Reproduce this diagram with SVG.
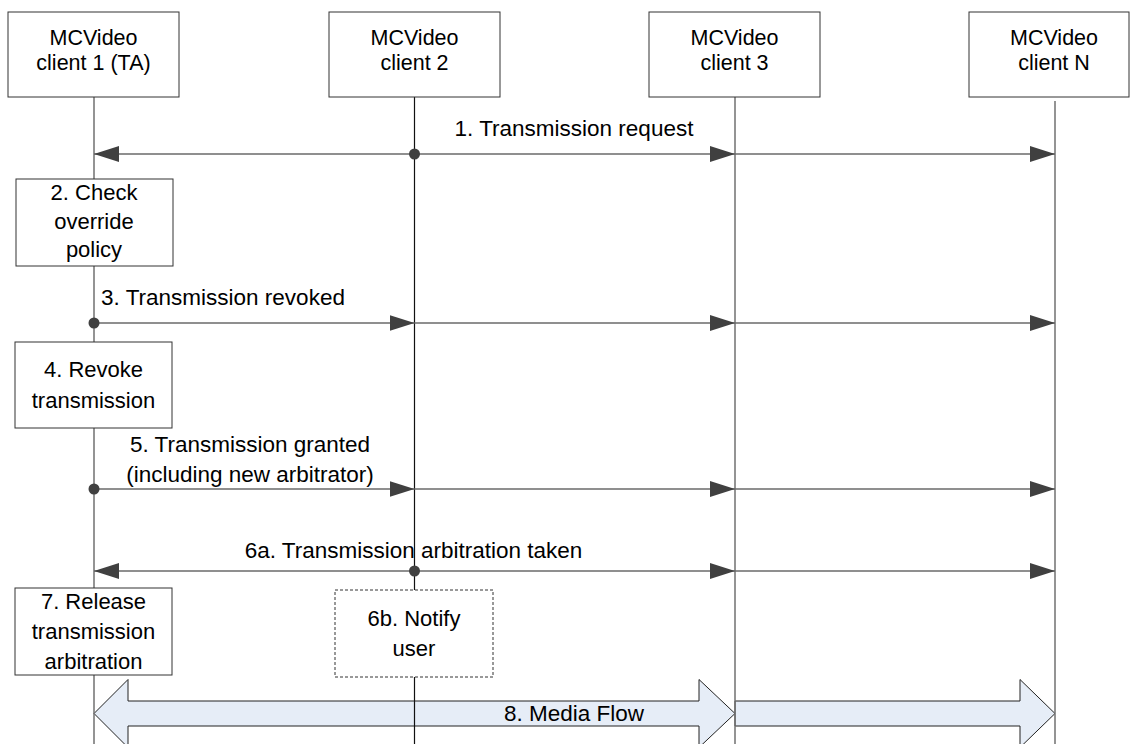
<svg xmlns="http://www.w3.org/2000/svg" width="1130" height="744" viewBox="0 0 1130 744">
<style>
  text { font-family: "Liberation Sans", Arial, sans-serif; font-size: 22px; fill: #000; }
  .c { text-anchor: middle; }
  .hd { font-size: 21.5px; }
  .lbl { font-size: 22.5px; }
  .box { fill: #fff; stroke: #333; stroke-width: 1; }
  .dash { fill: #fff; stroke: #333; stroke-width: 1; stroke-dasharray: 3 2; }
  .life { stroke: #707070; stroke-width: 1.5; fill: none; }
  .life2 { stroke: #111; stroke-width: 1.2; fill: none; }
  .msg { stroke: #6a6a6a; stroke-width: 1.5; fill: none; marker-end: url(#ah); }
  .dot { fill: #404040; }
  .media { fill: #e6edf7; stroke: #222; stroke-width: 1; }
</style>
<defs>
  <marker id="ah" markerUnits="userSpaceOnUse" markerWidth="26" markerHeight="18" viewBox="0 0 26 18" refX="25" refY="9" orient="auto">
    <path d="M0,1 L25,9 L0,17 z" fill="#404040"/>
  </marker>
</defs>
<rect width="1130" height="744" fill="#fff"/>

<g id="media-flow">
  <polygon class="media" points="735,701 1020,701 1020,679.5 1055,713.5 1020,747.5 1020,726 735,726"/>
  <polygon class="media" points="94,713.5 128,679.5 128,701 699,701 699,679.5 735,713.5 699,747.5 699,726 128,726 128,747.5"/>
  <text class="c lbl" x="574" y="721">8. Media Flow</text>
</g>

<g id="lifelines">
  <line class="life" x1="94" y1="97" x2="94" y2="744"/>
  <line class="life2" x1="414.5" y1="97" x2="414.5" y2="744"/>
  <line class="life" x1="735" y1="97" x2="735" y2="744"/>
  <line class="life" x1="1055" y1="101" x2="1055" y2="744"/>
</g>

<g id="client1">
  <rect class="box" x="8" y="12" width="171" height="85"/>
  <text class="c hd" x="93.5" y="45">MCVideo</text>
  <text class="c hd" x="93.5" y="70">client 1 (TA)</text>
</g>
<g id="client2">
  <rect class="box" x="329" y="12" width="171" height="85"/>
  <text class="c hd" x="414.5" y="45">MCVideo</text>
  <text class="c hd" x="414.5" y="70">client 2</text>
</g>
<g id="client3">
  <rect class="box" x="649" y="12" width="171" height="85"/>
  <text class="c hd" x="734.5" y="45">MCVideo</text>
  <text class="c hd" x="734.5" y="70">client 3</text>
</g>
<g id="clientN">
  <rect class="box" x="969" y="12" width="160" height="85"/>
  <text class="c hd" x="1054" y="45">MCVideo</text>
  <text class="c hd" x="1054" y="70">client N</text>
</g>

<g id="step2">
  <rect class="box" x="16" y="179" width="157" height="87"/>
  <text class="c" x="94" y="200">2. Check</text>
  <text class="c" x="94" y="229">override</text>
  <text class="c" x="94" y="257">policy</text>
</g>
<g id="step4">
  <rect class="box" x="15" y="342" width="157" height="86"/>
  <text class="c" x="93.5" y="377">4. Revoke</text>
  <text class="c" x="93.5" y="408">transmission</text>
</g>
<g id="step7">
  <rect class="box" x="15" y="588" width="157" height="87"/>
  <text class="c" x="93.5" y="609">7. Release</text>
  <text class="c" x="93.5" y="639">transmission</text>
  <text class="c" x="93.5" y="669">arbitration</text>
</g>
<g id="step6b">
  <rect class="dash" x="335" y="590" width="158" height="87"/>
  <text class="c" x="414" y="626">6b. Notify</text>
  <text class="c" x="414" y="656">user</text>
</g>

<g id="connectors">
  <line class="msg" x1="414.5" y1="154" x2="94" y2="154"/>
  <line class="msg" x1="414.5" y1="154" x2="735" y2="154"/>
  <line class="msg" x1="735" y1="154" x2="1055" y2="154"/>
  <circle class="dot" cx="414.5" cy="154" r="5.5"/>
  <text class="c lbl" x="574" y="136">1. Transmission request</text>

  <line class="msg" x1="94" y1="323" x2="414.5" y2="323"/>
  <line class="msg" x1="414.5" y1="323" x2="735" y2="323"/>
  <line class="msg" x1="735" y1="323" x2="1055" y2="323"/>
  <circle class="dot" cx="94" cy="323" r="5.5"/>
  <text class="c lbl" x="223" y="305">3. Transmission revoked</text>

  <line class="msg" x1="94" y1="489" x2="414.5" y2="489"/>
  <line class="msg" x1="414.5" y1="489" x2="735" y2="489"/>
  <line class="msg" x1="735" y1="489" x2="1055" y2="489"/>
  <circle class="dot" cx="94" cy="489" r="5.5"/>
  <text class="c lbl" x="250" y="452">5. Transmission granted</text>
  <text class="c lbl" x="250" y="482">(including new arbitrator)</text>

  <line class="msg" x1="414.5" y1="571" x2="94" y2="571"/>
  <line class="msg" x1="414.5" y1="571" x2="735" y2="571"/>
  <line class="msg" x1="735" y1="571" x2="1055" y2="571"/>
  <circle class="dot" cx="414.5" cy="571" r="5.5"/>
  <text class="c lbl" x="413.5" y="558">6a. Transmission arbitration taken</text>
</g>
</svg>
